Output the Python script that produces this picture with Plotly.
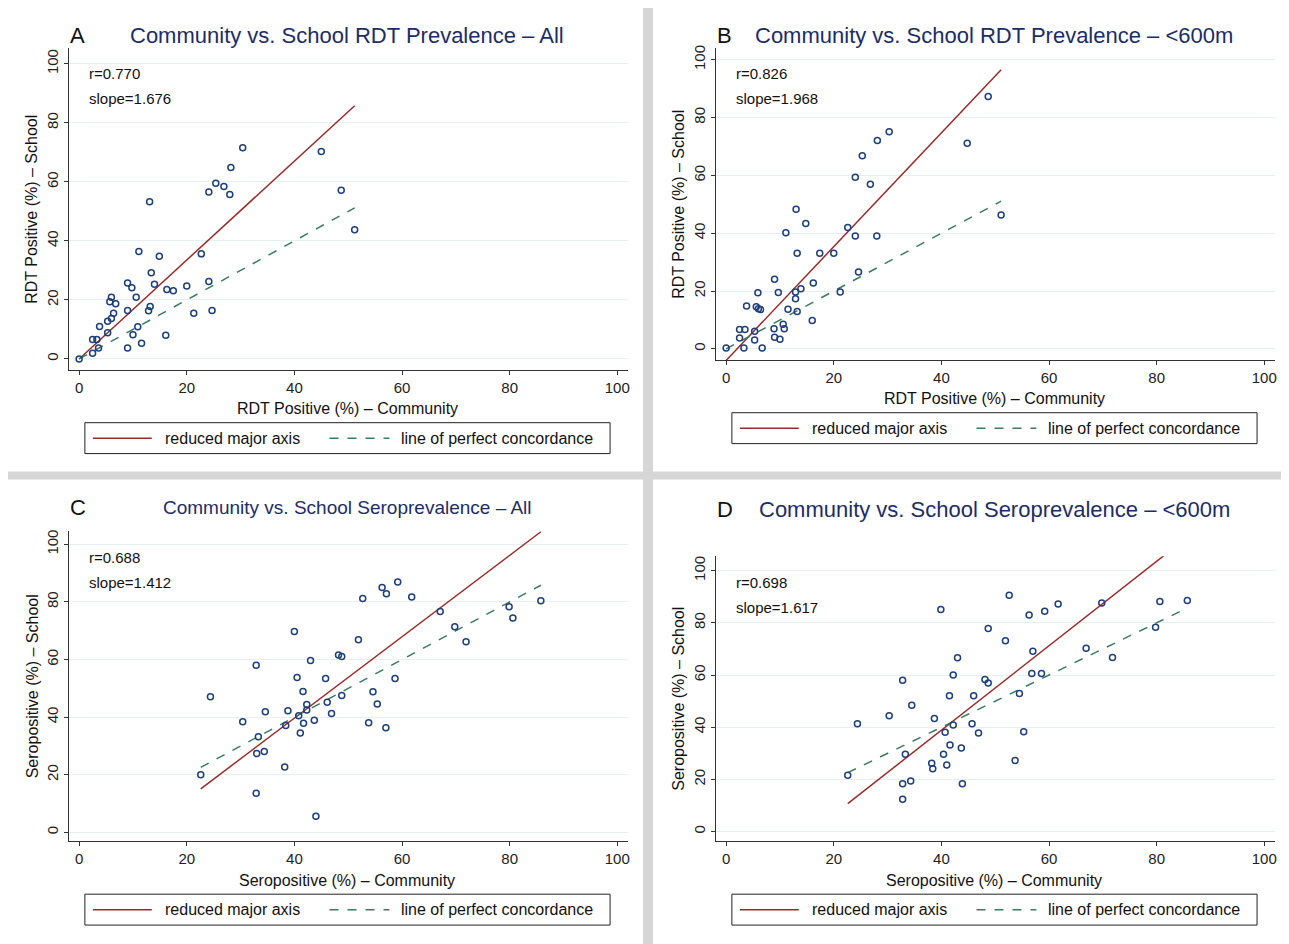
import plotly.graph_objects as go

W, H = 1289, 944

# ---- data ----
rdt_all_comm = [0, 2.5, 3.6, 2.5, 3.3, 5.3, 3.8, 5.3, 6.0, 6.4, 5.7, 6.8, 6.0, 9.0, 9.8, 10.6, 9.0, 9.0,
                10.0, 10.9, 11.6, 11.1, 13.1, 13.4, 14.0, 14.9, 12.9, 13.2, 16.1, 16.3, 17.5, 20.0, 21.3,
                22.7, 24.1, 24.7, 24.1, 25.4, 26.9, 28.0, 28.2, 30.4, 45.0, 48.7, 51.2]
rdt_all_school = [0, 1.9, 3.7, 6.6, 6.6, 8.9, 11.0, 12.8, 13.7, 15.5, 19.4, 18.7, 20.9, 25.7, 24.1, 20.9, 16.4, 3.7,
                  8.2, 10.9, 5.3, 36.4, 53.3, 29.2, 25.3, 34.8, 16.3, 17.8, 8.0, 23.5, 23.1, 24.7, 15.5,
                  35.6, 26.2, 16.4, 56.6, 59.5, 58.4, 55.7, 64.9, 71.6, 70.3, 57.2, 43.8]

rdt_600_comm = [0, 2.5, 2.5, 3.5, 3.3, 5.3, 5.3, 3.8, 5.6, 6.0, 6.4, 5.9, 6.7, 9.0, 9.7, 8.9, 9.0, 10.0, 10.6, 10.8,
                11.5, 11.1, 13.0, 13.2, 12.9, 13.9, 12.9, 13.2, 14.8, 16.2, 16.0, 17.4, 20.0, 21.2, 22.6, 24.0,
                24.0, 24.6, 25.3, 26.8, 28.0, 28.1, 30.3, 44.8, 48.7, 51.1]
rdt_600_school = [0.3, 3.8, 6.7, 6.7, 0.3, 6.1, 3.1, 14.8, 14.6, 13.9, 13.6, 19.4, 0.3, 24.1, 19.5, 7.0, 4.0, 3.3, 8.5, 7.0,
                  13.7, 40.2, 48.3, 33.1, 19.7, 20.8, 17.3, 12.9, 43.4, 22.8, 9.8, 33.1, 33.1, 19.7, 42.0, 39.0,
                  59.4, 26.6, 66.8, 56.9, 39.0, 72.1, 75.1, 71.1, 87.3, 46.3]

sero_all_comm = [22.6, 24.4, 30.4, 32.9, 33.3, 33.0, 34.4, 32.9, 34.6, 38.2, 38.4, 38.8, 40.0, 40.5, 40.8, 41.1,
                 41.6, 41.7, 42.3, 42.3, 43.0, 43.7, 44.0, 45.8, 46.1, 46.9, 48.2, 48.8, 48.8, 51.9, 52.7, 53.8,
                 54.6, 55.4, 56.3, 57.0, 57.1, 58.7, 59.2, 61.8, 67.1, 69.8, 71.9, 79.9, 80.6, 85.8]
sero_all_school = [20.0, 47.1, 38.4, 58.0, 33.2, 27.4, 28.1, 13.6, 41.9, 22.7, 37.1, 42.2, 69.7, 53.8, 40.5, 34.5,
                   48.9, 37.9, 44.4, 42.5, 59.7, 38.9, 5.6, 53.4, 45.2, 41.3, 61.6, 61.1, 47.5, 66.9, 81.2, 38.1,
                   48.8, 44.6, 85.0, 36.3, 82.8, 53.4, 86.9, 81.7, 76.7, 71.4, 66.2, 78.3, 74.4, 80.4]

sero_600_comm = [22.6, 24.4, 30.3, 32.8, 33.3, 32.8, 34.3, 32.8, 34.5, 38.2, 38.4, 38.7, 39.9, 40.4, 40.7, 41.0,
                 41.5, 41.6, 42.2, 42.2, 43.0, 43.7, 43.9, 45.7, 46.0, 46.9, 48.1, 48.7, 48.7, 51.9, 52.6, 53.7,
                 54.5, 55.3, 56.3, 56.8, 58.6, 57.0, 59.2, 61.7, 66.9, 69.8, 71.8, 79.8, 80.6, 85.7]
sero_600_school = [21.6, 41.3, 44.4, 58.0, 29.7, 18.4, 19.4, 12.4, 48.4, 26.2, 24.1, 43.4, 85.1, 29.7, 38.1, 25.5,
                   52.1, 33.2, 60.0, 40.9, 66.6, 32.1, 18.4, 41.3, 52.1, 37.8, 58.3, 57.0, 77.8, 73.1, 90.6, 27.3,
                   52.9, 38.3, 83.0, 60.6, 60.6, 69.1, 84.4, 87.2, 70.3, 87.6, 66.7, 78.3, 88.2, 88.6]

r_values = ["0.770", "0.826", "0.688", "0.698"]
rma_slopes = [1.676, 1.968, 1.412, 1.617]
rma_intercepts = [0.0, -4.0, -16.8, -25.8]

titles = ["Community vs. School RDT Prevalence \u2013 All",
          "Community vs. School RDT Prevalence \u2013 <600m",
          "Community vs. School Seroprevalence \u2013 All",
          "Community vs. School Seroprevalence \u2013 <600m"]
letters = ["A", "B", "C", "D"]
x_titles = ["RDT Positive (%) \u2013 Community", "RDT Positive (%) \u2013 Community",
            "Seropositive (%) \u2013 Community", "Seropositive (%) \u2013 Community"]
y_titles = ["RDT Positive (%) \u2013 School", "RDT Positive (%) \u2013 School",
            "Seropositive (%) \u2013 School", "Seropositive (%) \u2013 School"]
xs = [rdt_all_comm, rdt_600_comm, sero_all_comm, sero_600_comm]
ys = [rdt_all_school, rdt_600_school, sero_all_school, sero_600_school]

# panel layout in pixels (screen positions)
panels = [
    dict(box=(0, 0, 644, 470), xd=(69, 629), yd=(45, 368), yr=(-3.7, 105.4), ox=0, tsize=22, ty=33),
    dict(box=(654, 0, 1297, 470), xd=(717, 1277), yd=(45, 358), yr=(-3.8, 104.1), ox=648, tsize=22, ty=33),
    dict(box=(0, 478, 644, 952), xd=(69, 629), yd=(530, 841), yr=(-3.1, 104.5), ox=0, tsize=19, ty=506),
    dict(box=(654, 478, 1297, 952), xd=(717, 1277), yd=(555, 841), yr=(-3.7, 105.5), ox=648, tsize=22, ty=508),
]

NAVY = "#1f3f7a"
RED = "#9a2a2a"
GREEN = "#3b7a5e"
FONT = "Liberation Sans, Arial, sans-serif"
OFF = 8  # page body margin


def fx(px):
    return (px - OFF) / W


def fy(py):
    return 1 - (py - OFF) / H


def txt(x, y, s, size=16, color="#111", xanchor="center", angle=0):
    return dict(x=fx(x), y=fy(y), xref="paper", yref="paper", text=s, showarrow=False,
                xanchor=xanchor, yanchor="middle", textangle=angle,
                font=dict(size=size, color=color, family=FONT))


fig = go.Figure()
shapes, annotations = [], []

for i, p in enumerate(panels):
    n = "" if i == 0 else str(i + 1)
    xa, ya = "x" + n, "y" + n
    x0b, y0b, x1b, y1b = p["box"]
    shapes.append(dict(type="rect", xref="paper", yref="paper", x0=fx(x0b), x1=fx(x1b),
                       y0=fy(y1b), y1=fy(y0b), fillcolor="white", line=dict(width=0), layer="below"))

    x = xs[i]
    y = ys[i]
    xmin, xmax = min(x), max(x)
    fig.add_trace(go.Scatter(x=[xmin, xmax],
                             y=[rma_intercepts[i] + rma_slopes[i] * xmin, rma_intercepts[i] + rma_slopes[i] * xmax],
                             mode="lines", line=dict(color=RED, width=1.5), xaxis=xa, yaxis=ya, showlegend=False))
    fig.add_trace(go.Scatter(x=[xmin, xmax], y=[xmin, xmax], mode="lines",
                             line=dict(color=GREEN, width=1.5, dash="dash"), xaxis=xa, yaxis=ya, showlegend=False))
    fig.add_trace(go.Scatter(x=x, y=y, mode="markers",
                             marker=dict(symbol="circle-open", size=6, color=NAVY, line=dict(width=1.5)),
                             xaxis=xa, yaxis=ya, showlegend=False))

    axis_common = dict(showline=True, linecolor="#333", linewidth=1, ticks="outside", ticklen=4,
                       tickcolor="#333", tickfont=dict(size=15, color="#222", family=FONT),
                       tickvals=[0, 20, 40, 60, 80, 100], zeroline=False)
    fig.layout["xaxis" + n] = dict(axis_common, domain=[fx(p["xd"][0]), fx(p["xd"][1])],
                                   range=[-1.9, 102], anchor=ya, showgrid=False)
    fig.layout["yaxis" + n] = dict(axis_common, domain=[fy(p["yd"][1]), fy(p["yd"][0])],
                                   range=list(p["yr"]), anchor=xa, showgrid=True,
                                   gridcolor="#e6eff1", tickangle=-90)

    ox = p["ox"]
    annotations.append(txt(ox + 78, p["ty"], letters[i], size=22))
    annotations.append(txt(ox + 348, p["ty"], titles[i], size=p["tsize"], color="#1c2d66"))
    ytop = p["yd"][0]
    annotations.append(txt(p["xd"][0] + 18, ytop + 26, "r=" + r_values[i], xanchor="left", size=15))
    annotations.append(txt(p["xd"][0] + 18, ytop + 51, "slope=%.3f" % rma_slopes[i], xanchor="left", size=15))
    annotations.append(txt(ox + 348, p["yd"][1] + 39, x_titles[i]))
    annotations.append(txt(ox + 32, (p["yd"][0] + p["yd"][1]) / 2, y_titles[i], angle=-90))

    # legend box
    ly0, ly1 = p["yd"][1] + 53, p["yd"][1] + 84
    shapes.append(dict(type="rect", xref="paper", yref="paper", x0=fx(ox + 85), x1=fx(ox + 611),
                       y0=fy(ly1), y1=fy(ly0), line=dict(color="#222", width=1), fillcolor="white"))
    lm = (ly0 + ly1) / 2
    shapes.append(dict(type="line", xref="paper", yref="paper", x0=fx(ox + 93), x1=fx(ox + 152),
                       y0=fy(lm), y1=fy(lm), line=dict(color=RED, width=1.5)))
    shapes.append(dict(type="line", xref="paper", yref="paper", x0=fx(ox + 330), x1=fx(ox + 390),
                       y0=fy(lm), y1=fy(lm), line=dict(color=GREEN, width=1.5, dash="dash")))
    annotations.append(txt(ox + 163, lm, "reduced major axis", xanchor="left"))
    annotations.append(txt(ox + 400, lm, "line of perfect concordance", xanchor="left"))

fig.update_layout(width=W, height=H, margin=dict(l=0, r=0, t=0, b=0),
                  paper_bgcolor="#d6d6d6", plot_bgcolor="rgba(0,0,0,0)",
                  shapes=shapes, annotations=annotations, showlegend=False,
                  font=dict(family=FONT))
fig.write_html("out.html")
